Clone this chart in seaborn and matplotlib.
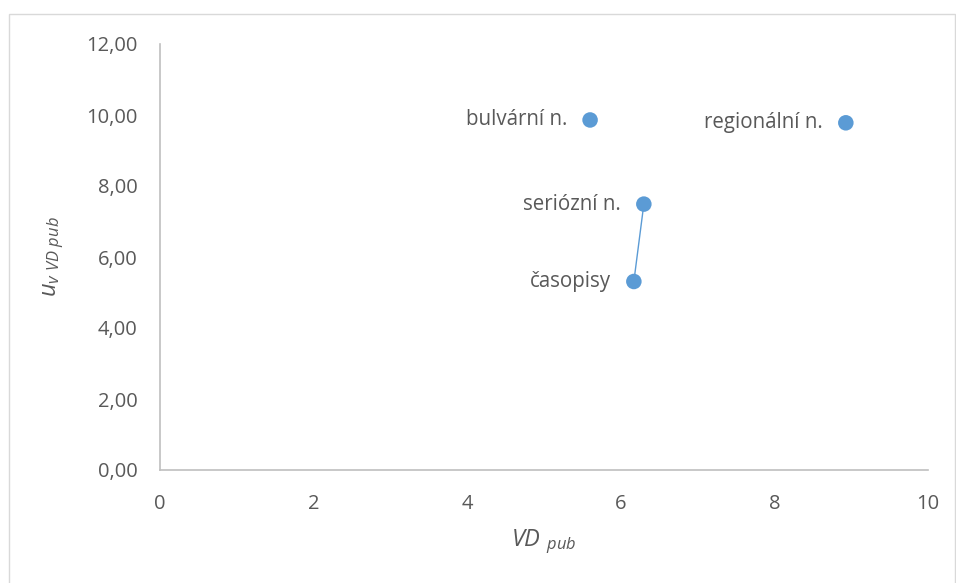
import matplotlib
matplotlib.use("Agg")
import matplotlib.pyplot as plt
import seaborn as sns
import pandas as pd
from matplotlib.patches import Rectangle
from matplotlib.ticker import FuncFormatter

# Publication types and their values
categories = ["bulvární n.", "regionální n.", "seriózní n.", "časopisy"]
vd_pub = [5.60, 8.93, 6.30, 6.17]
u_vd_pub = [9.86, 9.78, 7.49, 5.31]
# pair of categories joined by a line
linked = ["seriózní n.", "časopisy"]

x_ticks = [0, 2, 4, 6, 8, 10]
y_ticks = [0, 2, 4, 6, 8, 10, 12]

sns.set_theme(style="white")
plt.rcParams["font.family"] = ["Open Sans", "DejaVu Sans"]
plt.rcParams["mathtext.fontset"] = "custom"
plt.rcParams["mathtext.it"] = "Open Sans:italic"
plt.rcParams["mathtext.rm"] = "Open Sans"

TEXT = "#595959"
BLUE = "#5B9BD5"
SPINE = "#BFBFBF"

df = pd.DataFrame({"cat": categories, "vd": vd_pub, "u": u_vd_pub})

fig = plt.figure(figsize=(9.56, 5.83), dpi=100)
fig.patch.set_facecolor("white")
# chart area frame
fig.patches.append(Rectangle((9 / 956, -0.02), 946 / 956, 1 - 14 / 583 + 0.02,
                             transform=fig.transFigure, fill=False,
                             edgecolor="#D9D9D9", linewidth=1.0))

ax = fig.add_axes([160 / 956, 1 - 470 / 583, (928 - 160) / 956, (470 - 44) / 583])

link_df = df.set_index("cat").loc[linked].reset_index()
sns.lineplot(data=link_df, x="vd", y="u", ax=ax, color=BLUE, linewidth=1.0,
             sort=False, estimator=None)
sns.scatterplot(data=df, x="vd", y="u", ax=ax, color=BLUE, s=125,
                edgecolor="none", zorder=3)

for c, x, y in zip(categories, vd_pub, u_vd_pub):
    ax.annotate(c, (x, y), xytext=(-16.5, 0), textcoords="offset points",
                ha="right", va="center", fontsize=14.8, color=TEXT)

ax.set_xlim(0, 10)
ax.set_ylim(0, 12)
ax.set_xticks(x_ticks)
ax.set_yticks(y_ticks)
ax.yaxis.set_major_formatter(FuncFormatter(lambda v, p: f"{v:.2f}".replace(".", ",")))
ax.xaxis.set_major_formatter(FuncFormatter(lambda v, p: f"{int(v)}"))
ax.tick_params(axis="both", length=0, labelsize=14.5, labelcolor=TEXT)
ax.tick_params(axis="y", pad=16)
ax.tick_params(axis="x", pad=17)

for s in ["top", "right"]:
    ax.spines[s].set_visible(False)
for s in ["left", "bottom"]:
    ax.spines[s].set_color(SPINE)
    ax.spines[s].set_linewidth(1.2)

ax.set_xlabel(r"$VD\ _{pub}$", fontsize=17, color=TEXT, labelpad=10)
ax.set_ylabel(r"$u_{v\ VD\ pub}$", fontsize=17, color=TEXT, labelpad=15)
ax.grid(False)

fig.savefig("out.png", dpi=100, facecolor="white")
